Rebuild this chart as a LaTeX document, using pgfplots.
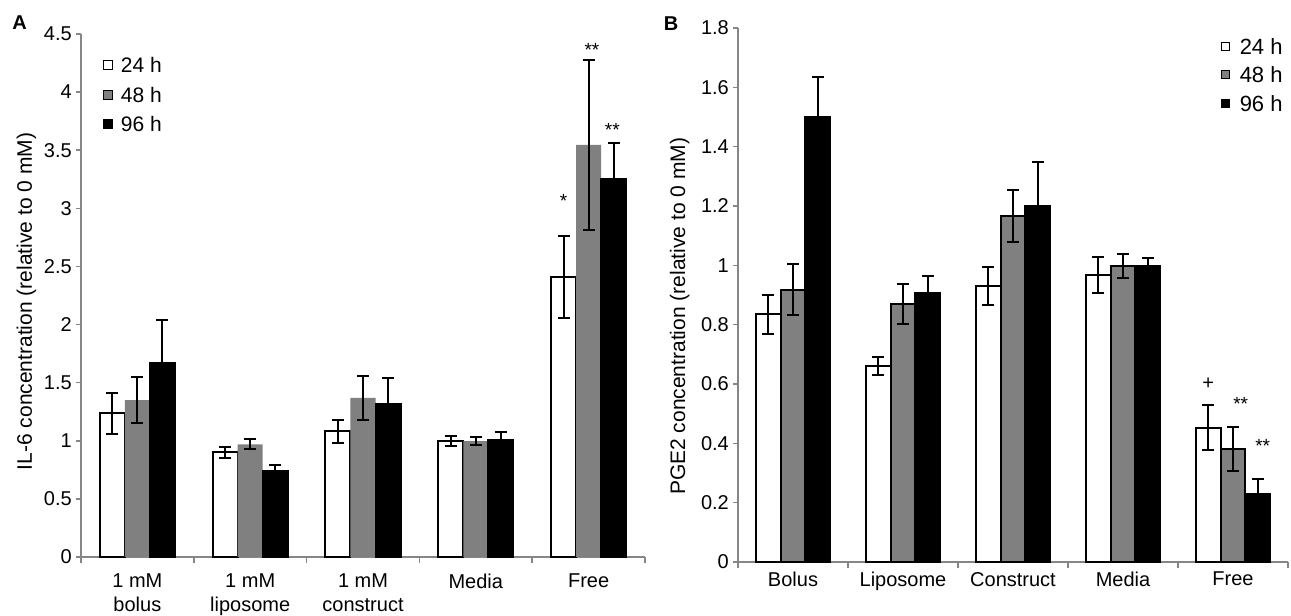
\documentclass[border=0pt]{standalone}
\usepackage{fontspec}
\setmainfont{Liberation Sans}
\usepackage{pgfplots}
\usepackage{pgfplotstable}
\pgfplotsset{compat=1.18}

\definecolor{axgray}{RGB}{134,134,134}
\definecolor{bargray}{RGB}{128,128,128}

% IL-6, relative to 0 mM
\pgfplotstableread{
x  a      ae     b      be     c      ce
0  1.236  0.178  1.350  0.195  1.670  0.370
1  0.900  0.044  0.970  0.043  0.737  0.055
2  1.080  0.100  1.370  0.190  1.320  0.220
3  1.000  0.045  0.998  0.037  1.004  0.075
4  2.410  0.350  3.545  0.735  3.250  0.310
}\dataA

% PGE2, relative to 0 mM
\pgfplotstableread{
x  a      ae     b      be     c      ce
0  0.835  0.065  0.917  0.086  1.501  0.135
1  0.660  0.030  0.870  0.067  0.908  0.056
2  0.930  0.065  1.167  0.088  1.201  0.146
3  0.967  0.060  0.998  0.040  0.998  0.026
4  0.453  0.076  0.380  0.074  0.230  0.050
}\dataB

\pgfplotsset{
  panel/.style={
    scale only axis, clip=false,
    axis x line*=bottom, axis y line*=left,
    x axis line style={-}, y axis line style={-},
    axis line style={axgray, line width=1.5pt},
    xmin=-0.5, xmax=4.5, ymin=0,
    xtick={0,1,2,3,4},
    major x tick style={draw=none},
    minor xtick={-0.5,0.5,1.5,2.5,3.5,4.5},
    tick align=outside,
    major tick length=5pt, minor tick length=6pt,
    tick style={axgray, line width=1.5pt},
    /pgf/number format/assume math mode=true,
    yticklabel style={font=\fontsize{20}{24}\selectfont, inner sep=0pt, xshift=-4pt},
    xticklabel style={font=\fontsize{20}{24}\selectfont, align=center, inner sep=0pt},
    every axis y label/.style={rotate=90, anchor=center, font=\fontsize{21}{25}\selectfont},
    legend cell align=left,
    legend style={draw=none, fill=none, inner sep=0pt, anchor=north west,
      nodes={inner sep=0pt}},
  },
  errs/.style={
    error bars/.cd, y dir=both, y explicit,
    error bar style={black, line width=2pt},
    error mark options={black, rotate=90, mark size=6pt, line width=2pt},
  },
  sqA/.style={legend image code/.code={
    \draw[##1, line width=1.3pt] (0pt,-3.5pt) rectangle (9pt,5.5pt);
    \path[draw=none, fill=none] (0pt,0pt) -- (17pt,0pt);}},
  sqB/.style={legend image code/.code={
    \draw[##1, line width=1.3pt] (0pt,-3pt) rectangle (8pt,5pt);
    \path[draw=none, fill=none] (0pt,0pt) -- (18pt,0pt);}},
}

\begin{document}
\begin{tikzpicture}[x=1pt,y=1pt]
\useasboundingbox (0,0) rectangle (1291,616);

\node[font=\bfseries\fontsize{20}{22}\selectfont] at (19.5,593) {A};
\node[font=\bfseries\fontsize{20}{22}\selectfont] at (671,592) {B};

\begin{axis}[panel,
  at={(81pt,59pt)}, anchor=south west, width=564pt, height=523pt,
  ymax=4.5, ytick={0,0.5,1,1.5,2,2.5,3,3.5,4,4.5},
  xticklabels={{1 mM\\bolus},{1 mM\\liposome},{1 mM\\construct},Media,Free},
  xticklabel style={yshift=-12pt},
  ylabel={IL-6 concentration (relative to 0 mM)},
  ylabel style={at={(axis description cs:-0.0966,0.4885)}},
  legend style={at={(axis description cs:0.039,0.955)},
    font=\fontsize{21}{25}\selectfont,
    row sep=12.5pt, nodes={text height=15pt, text depth=2pt}},
]
\addplot[ybar, bar width=0.222, bar shift=0, draw=black, fill=white,
  line width=2pt, sqA, errs] table[x expr=\thisrow{x}-0.222, y=a, y error=ae] {\dataA};
\addplot[ybar, bar width=0.222, bar shift=0, draw=none, fill=bargray,
  sqA, errs] table[x=x, y=b, y error=be] {\dataA};
\addplot[ybar, bar width=0.222, bar shift=0, draw=black, fill=black,
  line width=2pt, sqA, errs] table[x expr=\thisrow{x}+0.222, y=c, y error=ce] {\dataA};
\legend{24 h, 48 h, 96 h}
\node[anchor=base, font=\fontsize{19}{20}\selectfont] at (axis cs:3.778,3.005) {*};
\node[anchor=base, font=\fontsize{19}{20}\selectfont] at (axis cs:4.03,4.31) {**};
\node[anchor=base, font=\fontsize{19}{20}\selectfont] at (axis cs:4.21,3.62) {**};
\end{axis}

\begin{axis}[panel,
  at={(738pt,54pt)}, anchor=south west, width=550pt, height=534pt,
  ymax=1.8, ytick={0,0.2,0.4,0.6,0.8,1,1.2,1.4,1.6,1.8},
  xticklabels={Bolus,Liposome,Construct,Media,Free},
  xticklabel style={yshift=-5pt},
  ylabel={PGE2 concentration (relative to 0 mM)},
  ylabel style={at={(axis description cs:-0.106,0.46)}},
  legend style={at={(axis description cs:0.878,0.981)},
    font=\fontsize{22}{26}\selectfont,
    row sep=10.5pt, nodes={text height=16pt, text depth=2pt}},
]
\addplot[ybar, bar width=0.225, bar shift=0, draw=black, fill=white,
  line width=2pt, sqB, errs] table[x expr=\thisrow{x}-0.225, y=a, y error=ae] {\dataB};
\addplot[ybar, bar width=0.225, bar shift=0, draw=black, fill=bargray,
  line width=2pt, sqB, errs] table[x=x, y=b, y error=be] {\dataB};
\addplot[ybar, bar width=0.225, bar shift=0, draw=black, fill=black,
  line width=2pt, sqB, errs] table[x expr=\thisrow{x}+0.225, y=c, y error=ce] {\dataB};
\legend{24 h, 48 h, 96 h}
\node[anchor=base, font=\fontsize{20}{20}\selectfont] at (axis cs:3.775,0.583) {+};
\node[anchor=base, font=\fontsize{19}{20}\selectfont] at (axis cs:4.07,0.509) {**};
\node[anchor=base, font=\fontsize{19}{20}\selectfont] at (axis cs:4.27,0.368) {**};
\end{axis}
\end{tikzpicture}
\end{document}
